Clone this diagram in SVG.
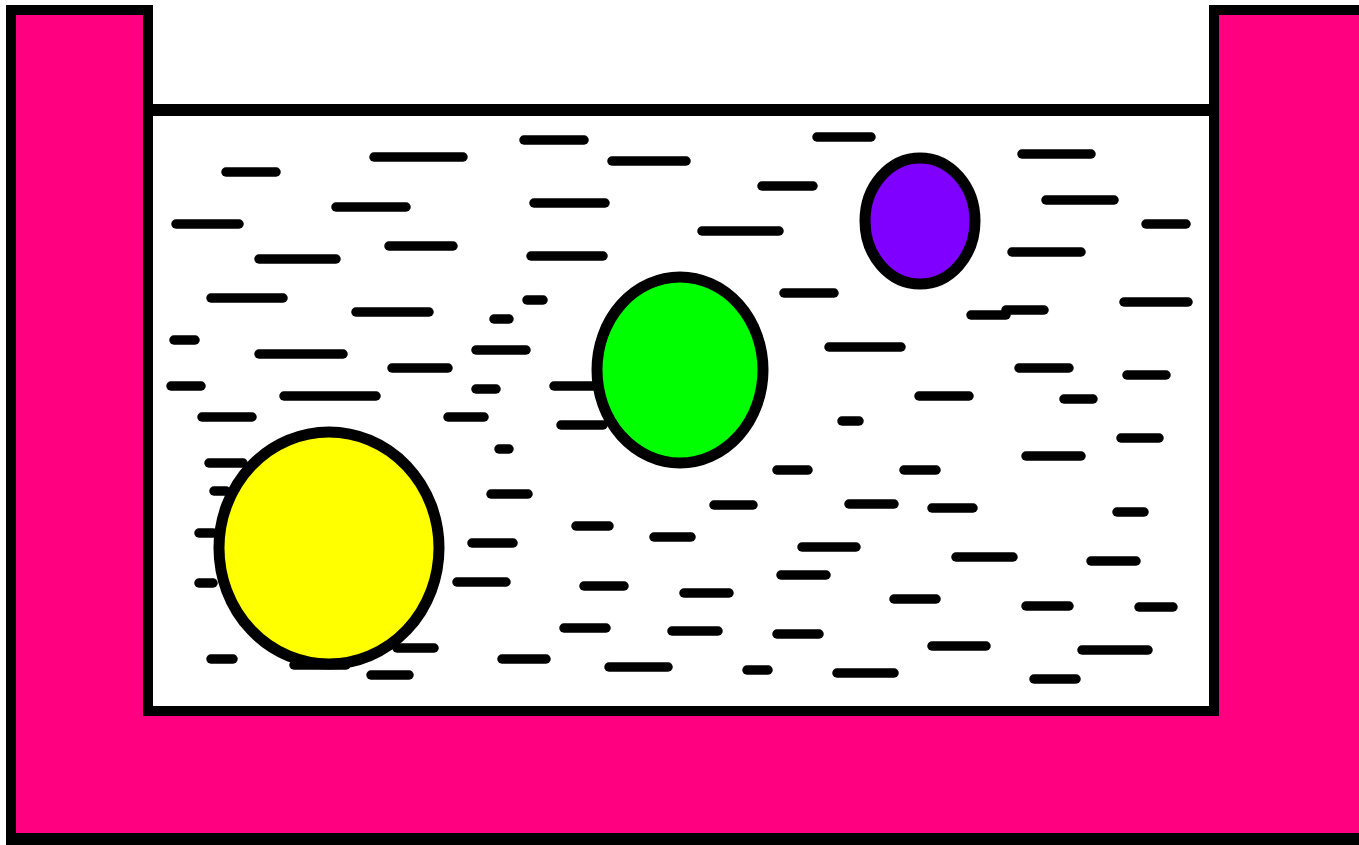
<svg xmlns="http://www.w3.org/2000/svg" width="1359" height="845" viewBox="0 0 1359 845">
<style>
.wall{fill:#FF0080;stroke:none}
.edge{fill:none;stroke:#000;stroke-width:10;stroke-linejoin:miter}
.d line{stroke:#000;stroke-width:9.5;stroke-linecap:round}
.ball{stroke:#000;stroke-width:11}
</style>
<rect width="1359" height="845" fill="#fff"/>
<g id="container">
<polygon class="wall" points="11,10 148,10 148,711 1214,711 1214,10 1359,10 1359,839 11,839"/>
<polyline class="edge" points="1359,10 1214,10 1214,711 148,711 148,10 11,10 11,839"/>
<line x1="6" y1="839" x2="1359" y2="839" stroke="#000" stroke-width="12"/>
<line x1="148" y1="110" x2="1214" y2="110" stroke="#000" stroke-width="12"/>
</g>
<g id="water" class="d">
<line x1="226" y1="172" x2="276" y2="172"/>
<line x1="374" y1="157" x2="463" y2="157"/>
<line x1="336" y1="207" x2="406" y2="207"/>
<line x1="176" y1="224" x2="239" y2="224"/>
<line x1="389" y1="246" x2="453" y2="246"/>
<line x1="259" y1="259" x2="336" y2="259"/>
<line x1="211" y1="298" x2="283" y2="298"/>
<line x1="356" y1="312" x2="429" y2="312"/>
<line x1="174" y1="340" x2="195" y2="340"/>
<line x1="259" y1="354" x2="343" y2="354"/>
<line x1="392" y1="368" x2="448" y2="368"/>
<line x1="171" y1="386" x2="201" y2="386"/>
<line x1="284" y1="396" x2="376" y2="396"/>
<line x1="202" y1="417" x2="252" y2="417"/>
<line x1="524" y1="140" x2="584" y2="140"/>
<line x1="612" y1="161" x2="686" y2="161"/>
<line x1="817" y1="137" x2="871" y2="137"/>
<line x1="762" y1="186" x2="813" y2="186"/>
<line x1="534" y1="203" x2="605" y2="203"/>
<line x1="702" y1="231" x2="779" y2="231"/>
<line x1="531" y1="256" x2="603" y2="256"/>
<line x1="527" y1="300" x2="543" y2="300"/>
<line x1="494" y1="319" x2="509" y2="319"/>
<line x1="784" y1="293" x2="834" y2="293"/>
<line x1="476" y1="350" x2="526" y2="350"/>
<line x1="829" y1="347" x2="901" y2="347"/>
<line x1="554" y1="386" x2="600" y2="386"/>
<line x1="476" y1="389" x2="496" y2="389"/>
<line x1="448" y1="417" x2="484" y2="417"/>
<line x1="561" y1="425" x2="603" y2="425"/>
<line x1="499" y1="449" x2="509" y2="449"/>
<line x1="842" y1="421" x2="859" y2="421"/>
<line x1="777" y1="470" x2="808" y2="470"/>
<line x1="904" y1="470" x2="936" y2="470"/>
<line x1="209" y1="463" x2="243" y2="463"/>
<line x1="214" y1="491" x2="226" y2="491"/>
<line x1="199" y1="533" x2="213" y2="533"/>
<line x1="199" y1="583" x2="213" y2="583"/>
<line x1="211" y1="659" x2="233" y2="659"/>
<line x1="397" y1="648" x2="434" y2="648"/>
<line x1="294" y1="665" x2="346" y2="665"/>
<line x1="371" y1="675" x2="409" y2="675"/>
<line x1="491" y1="494" x2="528" y2="494"/>
<line x1="714" y1="505" x2="753" y2="505"/>
<line x1="849" y1="504" x2="894" y2="504"/>
<line x1="576" y1="526" x2="609" y2="526"/>
<line x1="654" y1="537" x2="691" y2="537"/>
<line x1="472" y1="543" x2="513" y2="543"/>
<line x1="802" y1="547" x2="856" y2="547"/>
<line x1="457" y1="582" x2="506" y2="582"/>
<line x1="584" y1="586" x2="624" y2="586"/>
<line x1="684" y1="593" x2="729" y2="593"/>
<line x1="781" y1="575" x2="826" y2="575"/>
<line x1="894" y1="599" x2="936" y2="599"/>
<line x1="564" y1="628" x2="606" y2="628"/>
<line x1="672" y1="631" x2="718" y2="631"/>
<line x1="777" y1="634" x2="819" y2="634"/>
<line x1="502" y1="659" x2="546" y2="659"/>
<line x1="609" y1="667" x2="668" y2="667"/>
<line x1="747" y1="670" x2="768" y2="670"/>
<line x1="837" y1="673" x2="894" y2="673"/>
<line x1="1022" y1="154" x2="1091" y2="154"/>
<line x1="1046" y1="200" x2="1114" y2="200"/>
<line x1="1146" y1="224" x2="1186" y2="224"/>
<line x1="1012" y1="252" x2="1081" y2="252"/>
<line x1="1124" y1="302" x2="1188" y2="302"/>
<line x1="971" y1="315" x2="1006" y2="315"/>
<line x1="1006" y1="310" x2="1044" y2="310"/>
<line x1="1019" y1="368" x2="1069" y2="368"/>
<line x1="1127" y1="375" x2="1166" y2="375"/>
<line x1="919" y1="396" x2="969" y2="396"/>
<line x1="1064" y1="399" x2="1093" y2="399"/>
<line x1="1121" y1="438" x2="1159" y2="438"/>
<line x1="1026" y1="456" x2="1081" y2="456"/>
<line x1="932" y1="508" x2="973" y2="508"/>
<line x1="1117" y1="512" x2="1144" y2="512"/>
<line x1="956" y1="557" x2="1013" y2="557"/>
<line x1="1091" y1="561" x2="1136" y2="561"/>
<line x1="1026" y1="606" x2="1069" y2="606"/>
<line x1="1139" y1="607" x2="1173" y2="607"/>
<line x1="932" y1="646" x2="986" y2="646"/>
<line x1="1082" y1="650" x2="1148" y2="650"/>
<line x1="1034" y1="679" x2="1076" y2="679"/>
</g>
<g id="yellow-ball"><ellipse class="ball" cx="329" cy="548" rx="110" ry="116" fill="#FFFF00"/></g>
<g id="green-ball"><ellipse class="ball" cx="680" cy="370" rx="83" ry="93" fill="#00FF00"/></g>
<g id="purple-ball"><ellipse class="ball" cx="920" cy="221" rx="55" ry="63" fill="#7F00FF"/></g>
</svg>
